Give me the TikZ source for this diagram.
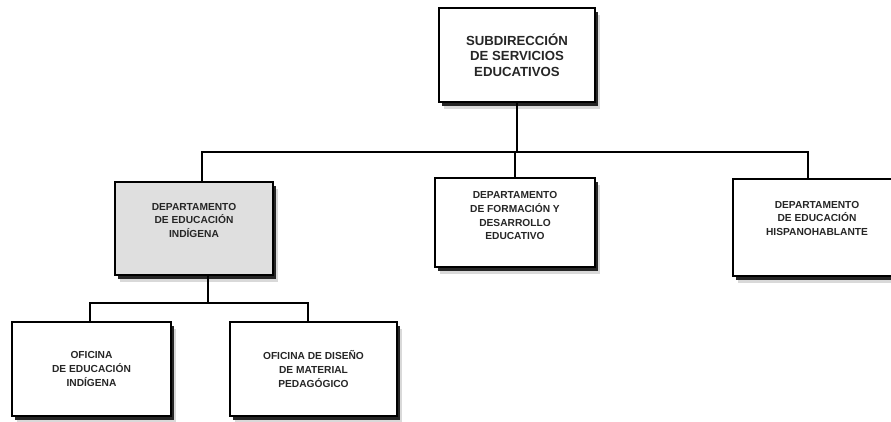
\documentclass[tikz,border=0pt]{standalone}
\usepackage{fontspec}
\setmainfont{Liberation Sans}
\usetikzlibrary{shadows}
\definecolor{boxgray}{HTML}{DFDFDF}
\definecolor{textgray}{HTML}{262626}

\begin{document}
\begin{tikzpicture}
[x=1pt,y=-1pt,line width=1.6pt,
box/.style={
draw,
fill=white,
rectangle,
align=center,
inner sep=0pt,
text=textgray,
font=\bfseries\fontsize{10.2}{13.6}\selectfont,
drop shadow={shadow xshift=5pt,shadow yshift=-7pt,opacity=1,fill=black!15},
drop shadow={shadow xshift=3pt,shadow yshift=-4pt,opacity=1,fill=black!85}}]
\useasboundingbox (0,0) rectangle (891,421);

\node (sse) at (517,55) [box,minimum width=156pt,minimum height=94pt,
  font=\bfseries\fontsize{13.2}{15.6}\selectfont] {SUBDIRECCIÓN\\DE SERVICIOS\\EDUCATIVOS};

\node (dei) at (194,228.5) [box,fill=boxgray,minimum width=158pt,minimum height=93pt] {DEPARTAMENTO\\DE EDUCACIÓN\\INDÍGENA\\[3pt]~};
\node (dfde) at (515,222.5) [box,minimum width=160pt,minimum height=89pt] {DEPARTAMENTO\\DE FORMACIÓN Y\\DESARROLLO\\EDUCATIVO\\~};
\node (dhi) at (817,227.5) [box,minimum width=168pt,minimum height=97pt] {DEPARTAMENTO\\DE EDUCACIÓN\\HISPANOHABLANTE\\[5pt]~};

\node (oei) at (91.5,369) [box,minimum width=159pt,minimum height=94pt] {OFICINA\\DE EDUCACIÓN\\INDÍGENA};
\node (odm) at (313.5,369) [box,minimum width=167pt,minimum height=94pt] {OFICINA DE DISEÑO\\DE MATERIAL\\PEDAGÓGICO};

% lines
\coordinate (bus1) at (202,152);
\coordinate (bus2) at (808,152);
\coordinate (subm) at (208,303);
\coordinate (sub1) at (90,303);
\coordinate (sub2) at (308,303);

\draw (sse.south) -- (sse.south |- bus1);
\draw (dei.north -| bus1) -- (bus1) -- (bus2) -- (dhi.north -| bus2);
\draw (dfde.north) -- (dfde.north |- bus1);

\draw (dei.south -| subm) -- (subm);
\draw (oei.north -| sub1) -- (sub1) -- (sub2) -- (odm.north -| sub2);

\end{tikzpicture}
\end{document}
